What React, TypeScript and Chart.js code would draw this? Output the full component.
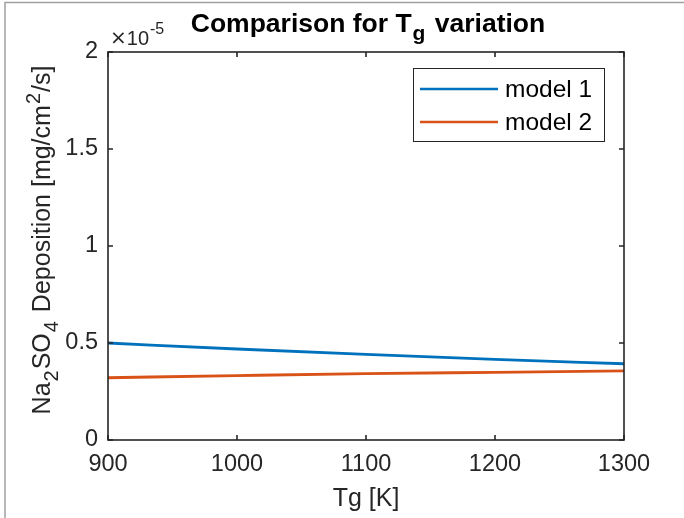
import React, { useEffect, useRef } from "react";
import { Chart, registerables } from "chart.js";

Chart.register(...registerables);

// Gas temperature Tg [K]
const TG_K = [900, 1000, 1100, 1200, 1300];
// Na2SO4 deposition, in units of 1e-5 mg/cm^2/s
const MODEL_1 = [0.5, 0.469, 0.441, 0.416, 0.393];
const MODEL_2 = [0.321, 0.332, 0.342, 0.349, 0.356];
const SERIES_NAMES = ["model 1", "model 2"];
const SERIES_COLORS = ["#0072BD", "#D95319"];
const X_TICKS = [900, 1000, 1100, 1200, 1300];
const Y_TICKS = [0, 0.5, 1, 1.5, 2];
const Y_EXPONENT = "-5";

const FONT = '"Liberation Sans", Arial, Helvetica, sans-serif';
const AXIS_COLOR = "#262626";

type Run = { t: string; size: number; dy: number; bold?: boolean; gap?: number; family?: string };

function setFont(ctx: CanvasRenderingContext2D, r: Run) {
  ctx.font = `${r.bold ? "bold " : ""}${r.size}px ${r.family || FONT}`;
}
function runsWidth(ctx: CanvasRenderingContext2D, runs: Run[]) {
  let w = 0;
  for (const r of runs) {
    setFont(ctx, r);
    w += ctx.measureText(r.t).width + (r.gap || 0);
  }
  return w;
}
function drawRuns(ctx: CanvasRenderingContext2D, runs: Run[], x: number, y: number) {
  let cx = x;
  ctx.textBaseline = "alphabetic";
  ctx.textAlign = "left";
  for (const r of runs) {
    setFont(ctx, r);
    ctx.fillText(r.t, cx, y + r.dy);
    cx += ctx.measureText(r.t).width + (r.gap || 0);
  }
}

const decorPlugin = {
  id: "matlabDecor",
  afterDraw(chart: any) {
    const { ctx, chartArea: a, scales } = chart;
    const xs = scales.x;
    const ys = scales.y;
    ctx.save();

    // figure frame lines
    ctx.strokeStyle = "#a0a0a0";
    ctx.lineWidth = 1.5;
    ctx.beginPath();
    ctx.moveTo(5, 518);
    ctx.lineTo(5, 2.5);
    ctx.lineTo(684, 2.5);
    ctx.stroke();

    // axes box
    ctx.strokeStyle = AXIS_COLOR;
    ctx.lineWidth = 1.6;
    ctx.strokeRect(a.left, a.top, a.right - a.left, a.bottom - a.top);
    // inward ticks on all sides
    ctx.beginPath();
    for (const v of X_TICKS) {
      const px = xs.getPixelForValue(v);
      ctx.moveTo(px, a.bottom);
      ctx.lineTo(px, a.bottom - 5);
      ctx.moveTo(px, a.top);
      ctx.lineTo(px, a.top + 5);
    }
    for (const v of Y_TICKS) {
      const py = ys.getPixelForValue(v);
      ctx.moveTo(a.left, py);
      ctx.lineTo(a.left + 5, py);
      ctx.moveTo(a.right, py);
      ctx.lineTo(a.right - 5, py);
    }
    ctx.stroke();

    ctx.fillStyle = "#000000";
    // title
    const title: Run[] = [
      { t: "Comparison for T", size: 26.5, dy: 0, bold: true, gap: 1 },
      { t: "g", size: 21, dy: 8, bold: true, gap: 2 },
      { t: " variation", size: 26.5, dy: 0, bold: true },
    ];
    const tw = runsWidth(ctx, title);
    const cx = (a.left + a.right) / 2 + 2;
    drawRuns(ctx, title, cx - tw / 2, 32);

    // exponent label
    ctx.fillStyle = AXIS_COLOR;
    drawRuns(
      ctx,
      [
        { t: "\u00d7", size: 20, dy: -1, family: '"DejaVu Sans", sans-serif' },
        { t: "10", size: 20, dy: 0, gap: 1 },
        { t: Y_EXPONENT, size: 16, dy: -11 },
      ],
      a.left + 2,
      45
    );

    // x axis title
    const xt: Run[] = [{ t: "Tg [K]", size: 25, dy: 0 }];
    const xw = runsWidth(ctx, xt);
    drawRuns(ctx, xt, (a.left + a.right) / 2 - xw / 2, 506);

    // y axis title (rotated)
    const yt: Run[] = [
      { t: "Na", size: 25, dy: 0, gap: 1 },
      { t: "2", size: 20, dy: 8, gap: 1 },
      { t: "SO", size: 25, dy: 0, gap: 1 },
      { t: "4", size: 20, dy: 8, gap: 2 },
      { t: " Deposition [mg/cm", size: 25, dy: 0, gap: 1 },
      { t: "2", size: 20, dy: -10, gap: 1 },
      { t: "/s]", size: 25, dy: 0 },
    ];
    const yw = runsWidth(ctx, yt);
    ctx.save();
    ctx.translate(50, 240);
    ctx.rotate(-Math.PI / 2);
    drawRuns(ctx, yt, -yw / 2, 0);
    ctx.restore();

    // legend
    const lx = 413.5, ly = 68.5, lw = 191, lh = 73;
    ctx.fillStyle = "#ffffff";
    ctx.fillRect(lx, ly, lw, lh);
    ctx.strokeStyle = AXIS_COLOR;
    ctx.lineWidth = 1;
    ctx.strokeRect(lx, ly, lw, lh);
    const rows = [89, 122];
    chart.data.datasets.forEach((ds: any, i: number) => {
      const ry = rows[i];
      ctx.strokeStyle = ds.borderColor;
      ctx.lineWidth = 2.5;
      ctx.beginPath();
      ctx.moveTo(420, ry);
      ctx.lineTo(498, ry);
      ctx.stroke();
      ctx.fillStyle = "#000000";
      ctx.font = `24.5px ${FONT}`;
      ctx.textBaseline = "middle";
      ctx.textAlign = "left";
      ctx.fillText(ds.label, 505, ry + 1);
    });

    ctx.restore();
  },
};

export default function App() {
  const ref = useRef<HTMLCanvasElement>(null);
  useEffect(() => {
    if (!ref.current) return;
    const chart = new Chart(ref.current, {
      type: "line",
      data: {
        datasets: [MODEL_1, MODEL_2].map((vals, i) => ({
          label: SERIES_NAMES[i],
          data: TG_K.map((t, j) => ({ x: t, y: vals[j] })),
          borderColor: SERIES_COLORS[i],
          backgroundColor: SERIES_COLORS[i],
          borderWidth: 2.8,
          pointRadius: 0,
          cubicInterpolationMode: "monotone" as const,
          fill: false,
        })),
      },
      options: {
        responsive: false,
        animation: false,
        devicePixelRatio: 1,
        layout: { padding: { left: 58, right: 60, top: 52, bottom: 38 } },
        plugins: {
          legend: { display: false },
          title: { display: false },
          tooltip: { enabled: false },
        },
        scales: {
          x: {
            type: "linear",
            min: 900,
            max: 1300,
            afterBuildTicks: (s: any) => {
              s.ticks = X_TICKS.map((v) => ({ value: v }));
            },
            afterFit: (s: any) => {
              s.height = 40;
            },
            grid: { display: false, drawTicks: false, tickLength: 0 },
            border: { display: false },
            ticks: {
              color: AXIS_COLOR,
              font: { family: FONT, size: 23.5 },
              padding: 10,
              maxRotation: 0,
              autoSkip: false,
              callback: (v: any) => String(v),
            },
          },
          y: {
            type: "linear",
            min: 0,
            max: 2,
            afterBuildTicks: (s: any) => {
              s.ticks = Y_TICKS.map((v) => ({ value: v }));
            },
            afterFit: (s: any) => {
              s.width = 50;
            },
            grid: { display: false, drawTicks: false, tickLength: 0 },
            border: { display: false },
            ticks: {
              color: AXIS_COLOR,
              font: { family: FONT, size: 23.5 },
              padding: 10,
              autoSkip: false,
              callback: (v: any) => String(v),
            },
          },
        },
      },
      plugins: [decorPlugin],
    });
    return () => chart.destroy();
  }, []);
  return (
    <div style={{ position: "fixed", left: 0, top: 0, width: 684, height: 518, background: "#fff" }}>
      <canvas ref={ref} width={684} height={518} style={{ width: 684, height: 518, display: "block" }} />
    </div>
  );
}
